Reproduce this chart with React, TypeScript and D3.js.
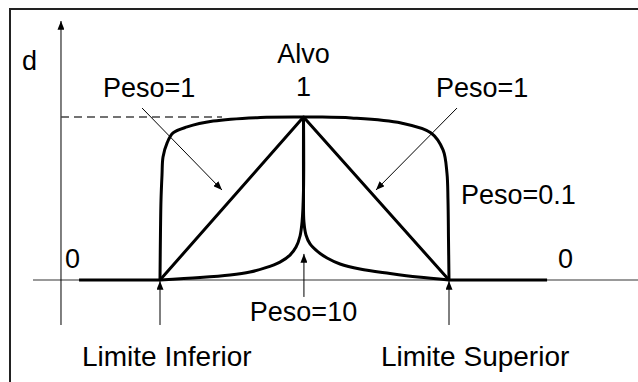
import React from "react";
import * as d3 from "d3";

// Key positions on the response axis (lower limit, target, upper limit)
const keyX = [-1, 0, 1];
const keyLabels = ["Limite Inferior", "Alvo", "Limite Superior"];
const weightLabels = ["Peso=0.1", "Peso=1", "Peso=10"];
const zeroLabel = "0";
const oneLabel = "1";
const yLabel = "d";

// Peso = 0.1
const w01X = [-1, -0.9965, -0.993, -0.986, -0.979, -0.951, -0.909, -0.811, -0.629, -0.301, 0,
  0.103, 0.329, 0.671, 0.877, 0.959, 0.986, 0.993, 0.9966, 1];
const w01Y = [0, 0.307, 0.491, 0.644, 0.755, 0.84, 0.902, 0.939, 0.975, 0.997, 1,
  1, 0.994, 0.963, 0.902, 0.798, 0.656, 0.491, 0.245, 0];

// Peso = 1
const w1X = [-1, 0, 1];
const w1Y = [0, 1, 0];

// Peso = 10 (left branch, then right branch)
const w10LeftX = [-1, -0.721, -0.512, -0.373, -0.268, -0.164, -0.094, -0.052, -0.024, -0.01, 0, 0];
const w10LeftY = [0, 0.015, 0.031, 0.049, 0.074, 0.11, 0.153, 0.202, 0.27, 0.356, 0.552, 1];
const w10RightX = [0, 0, 0.003, 0.017, 0.045, 0.1, 0.162, 0.251, 0.388, 0.595, 0.787, 1];
const w10RightY = [1, 0.552, 0.356, 0.276, 0.221, 0.172, 0.135, 0.098, 0.067, 0.04, 0.018, 0];

// flat d = 0 parts outside the limits
const zeroLeftX = [-1.564, -1];
const zeroRightX = [1, 1.674];

const W = 638;
const H = 382;
const FONT = "'Liberation Sans', Arial, sans-serif";

export default function App() {
  const x = d3.scaleLinear().domain([-1, 0, 1]).range([160, 303.5, 449]);
  const y = d3.scaleLinear().domain([0, 1]).range([280, 117]);

  const curve = d3
    .line<[number, number]>()
    .x((d) => x(d[0]))
    .y((d) => y(d[1]))
    .curve(d3.curveCatmullRom.alpha(0.5));
  const straight = d3
    .line<[number, number]>()
    .x((d) => x(d[0]))
    .y((d) => y(d[1]));

  const zip = (xs: number[], ys: number[]) => xs.map((v, i) => [v, ys[i]] as [number, number]);

  const yAxisX = x(-1.69);

  const arrows = [
    { x1: -1.125, y1: 1.055, x2: -0.568, y2: 0.552 },
    { x1: 1.055, y1: 1.055, x2: 0.498, y2: 0.552 },
    { x1: -1, y1: -0.276, x2: -1, y2: -0.006 },
    { x1: 1, y1: -0.276, x2: 1, y2: -0.006 },
    { x1: 0.003, y1: -0.104, x2: 0.003, y2: 0.16 },
  ];

  return (
    <svg
      width={W}
      height={H}
      style={{ position: "absolute", left: 0, top: 0, background: "#fff" }}
      fontFamily={FONT}
    >
      <defs>
        <marker
          id="ah"
          viewBox="0 0 10 8"
          refX={10}
          refY={4}
          markerWidth={9}
          markerHeight={7}
          markerUnits="userSpaceOnUse"
          orient="auto"
        >
          <path d="M0,0 L10,4 L0,8 z" fill="#000" />
        </marker>
      </defs>
      <rect x={0} y={0} width={W} height={H} fill="#fff" />
      {/* frame */}
      <rect x={10} y={9} width={W + 50} height={H + 50} fill="none" stroke="#222" strokeWidth={2} />

      {/* x axis */}
      <line x1={33} x2={W} y1={y(0)} y2={y(0)} stroke="#777" strokeWidth={1.5} />
      {/* y axis */}
      <line x1={yAxisX} x2={yAxisX} y1={325} y2={21} stroke="#000" strokeWidth={1} markerEnd="url(#ah)" />

      {/* dashed d=1 reference */}
      <line x1={yAxisX} x2={222} y1={y(1)} y2={y(1)} stroke="#444" strokeWidth={1.5} strokeDasharray="8,5" />

      {/* curves */}
      <g fill="none" stroke="#000" strokeWidth={3} strokeLinejoin="round">
        <path d={straight(zip(zeroLeftX, [0, 0])) || ""} />
        <path d={straight(zip(zeroRightX, [0, 0])) || ""} />
        <path d={curve(zip(w01X, w01Y)) || ""} />
        <path d={straight(zip(w1X, w1Y)) || ""} />
        <path d={curve(zip(w10LeftX, w10LeftY)) || ""} />
        <path d={curve(zip(w10RightX, w10RightY)) || ""} />
      </g>

      {/* annotation arrows */}
      <g stroke="#000" strokeWidth={1}>
        {arrows.map((a, i) => (
          <line key={i} x1={x(a.x1)} y1={y(a.y1)} x2={x(a.x2)} y2={y(a.y2)} markerEnd="url(#ah)" />
        ))}
      </g>

      {/* texts */}
      <g fill="#000" fontSize={27}>
        <text x={22} y={70}>{yLabel}</text>
        <text x={x(keyX[1])} y={63} textAnchor="middle">{keyLabels[1]}</text>
        <text x={x(keyX[1])} y={96} textAnchor="middle">{oneLabel}</text>
        <text x={103} y={97}>{weightLabels[1]}</text>
        <text x={436} y={97}>{weightLabels[1]}</text>
        <text x={461} y={204}>{weightLabels[0]}</text>
        <text x={x(keyX[1])} y={321} textAnchor="middle">{weightLabels[2]}</text>
        <text x={65} y={268}>{zeroLabel}</text>
        <text x={558} y={268}>{zeroLabel}</text>
        <text x={x(keyX[0]) - 78} y={366} fontSize={28}>{keyLabels[0]}</text>
        <text x={x(keyX[2]) - 68} y={366} fontSize={28}>{keyLabels[2]}</text>
      </g>
    </svg>
  );
}
